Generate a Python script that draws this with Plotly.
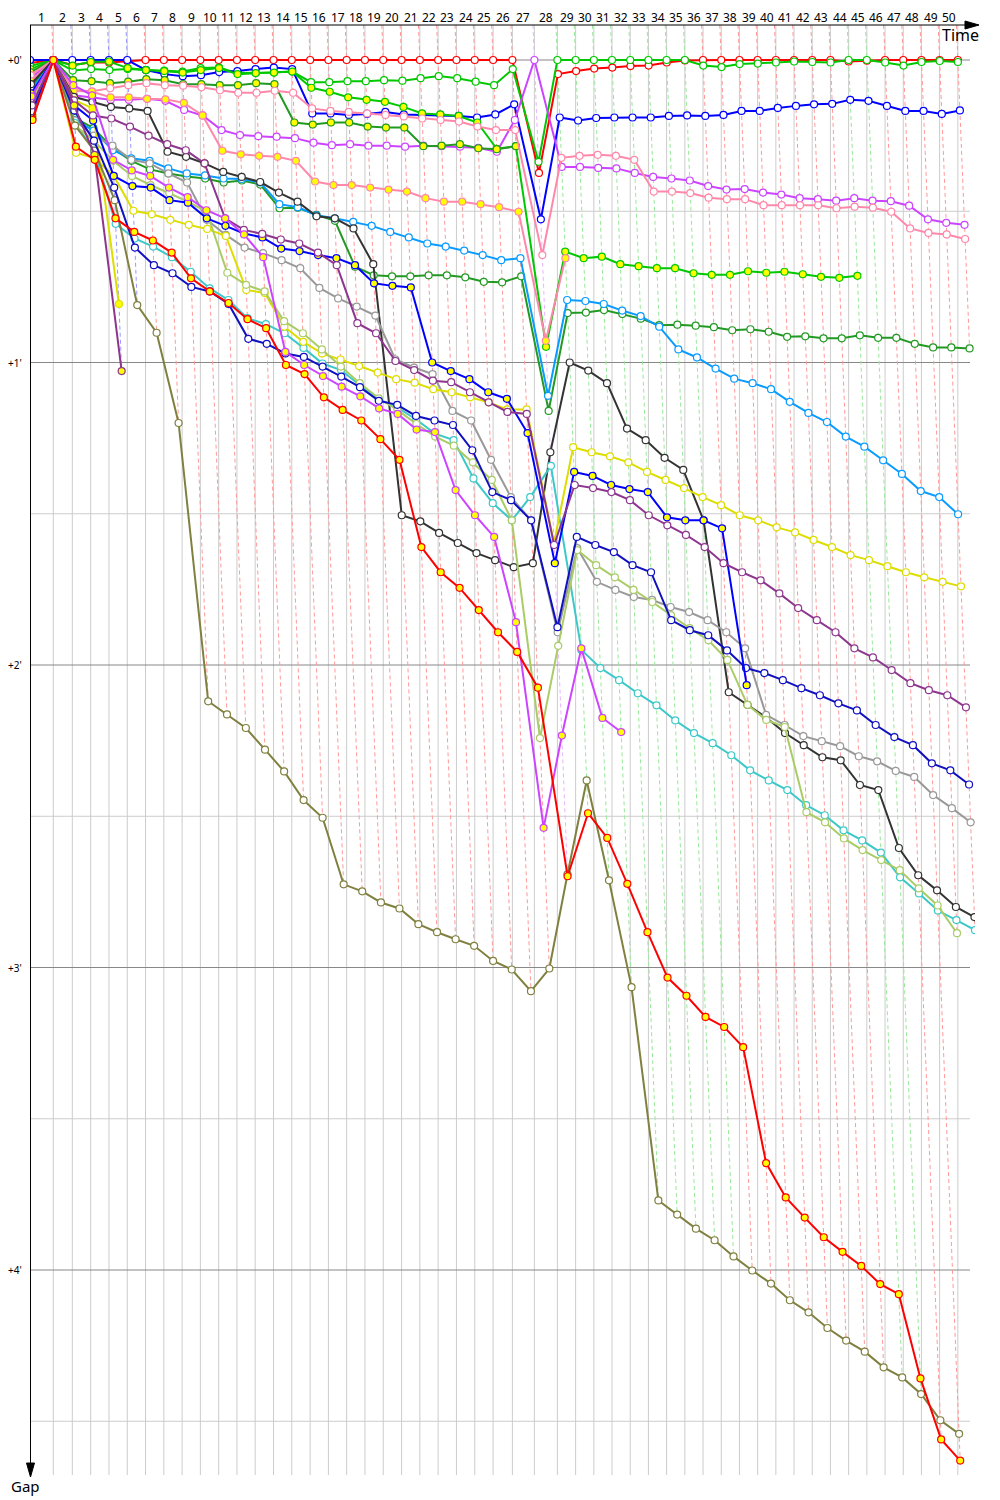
import plotly.graph_objects as go

N = None

# ---------------- data ----------------
lap_numbers = list(range(1, 51))
lap_labels = [str(n) for n in lap_numbers]

# leader lap times (seconds), laps 1..50
leader_lap_times = [113.7, 92.7,
                    89.6, 89.4, 89.1, 89.0, 89.3, 89.2, 89.0, 89.4, 89.1, 89.0, 89.3, 89.2,
                    89.5, 89.1, 89.0, 89.3, 89.2, 89.4, 89.2, 89.1, 89.4, 89.3, 89.5,
                    94.1, 107.3, 112.2,
                    89.0, 88.8, 88.6, 88.9, 88.7, 88.8, 89.0, 88.6, 88.9, 88.8, 88.7,
                    88.9, 88.8, 88.6, 88.9, 88.7, 88.8, 88.9, 88.7, 88.8, 88.6, 88.9]

gap_ticks = [0, 60, 120, 180, 240]
gap_tick_labels = ["+0'", "+1'", "+2'", "+3'", "+4'"]

# gaps to leader (seconds), index = lap 0..50
red_a = [0.6, 0, 1.0, 0.5, 0.5, 0.2,
         0, 0, 0, 0, 0, 0, 0, 0, 0, 0, 0, 0, 0, 0, 0, 0, 0, 0, 0, 0, 0,
         22.4,
         2.8, 2.2, 1.7, 1.5, 1.2, 1.1, 0.5, 0.1,
         0, 0, 0, 0, 0, 0, 0, 0,
         0.3, 0.15,
         0, 0, 0, 0, 0]
green_a = [1.2, 0, 2.1, 1.8, 2.0, 1.8, 2.0, 2.1, 2.3, 1.6, 1.5, 2.6, 2.6, 2.5, 2.3, 4.4, 4.4, 4.2,
           4.2, 4.0, 4.1, 3.6, 3.2, 3.6, 4.3, 5.0, 1.8, 20.2,
           0, 0, 0, 0, 0, 0, 0, 0,
           1.1, 1.4, 0.8, 0.7, 0.5, 0.3, 0.4, 0.5, 0, 0, 0.5, 1.1, 0.4, 0.2, 0.4]
green_b = [1.8, 0, 1.1, 0.4, 0.3, 1.6, 2.0, 2.2, 2.5, 2.0, 1.6, 2.8, 2.6, 2.5, 2.3, 5.5, 6.3, 7.4,
           7.9, 8.3, 9.3, 10.6, 10.8, 11.1, 12.4, 17.6, 17.1, 56.9,
           38.0, 39.3, 39.0, 40.5, 40.9, 41.3, 41.3, 42.3, 42.6, 42.6, 41.9, 42.2, 42.0, 42.5,
           43.0, 43.2, 42.8, N, N, N, N, N, N]
dkgreen_b = [2.4, 0, 4.0, 4.2, 4.6, 4.3, 3.8, 4.0, 4.8, 4.8, 5.0, 5.0, 4.6, 4.8, 12.4, 12.8, 12.4,
             12.4, 13.2, 13.4, 13.4, 17.1, 17.0, 16.7, 17.5, 17.7, 17.1] + [N] * 24
pink_a = [3.0, 0, 6.0, 6.2, 5.6, 5.0, 4.6, 5.0, 5.1, 5.4, 6.0, 6.5, 6.5, 6.1, 6.5, 9.6, 10.1, 10.3,
          10.6, 10.9, 11.2, 11.6, 11.9, 12.2, 13.2, 13.9, 13.9, 38.7,
          19.4, 19.0, 18.8, 19.0, 19.8, 26.1, 26.1, 26.4, 27.3, 27.6, 27.6, 28.8, 28.8, 28.8,
          28.8, 29.4, 29.1, 29.3, 30.1, 33.4, 34.3, 34.6, 35.5]
pink_b = [4.2, 0, 6.1, 6.3, 7.4, 7.4, 7.7, 7.8, 8.5, 11.0, 18.0, 18.7, 19.0, 19.2, 20.0, 24.1, 24.8,
          24.8, 25.3, 25.7, 26.1, 27.4, 28.1, 28.1, 28.6, 29.2, 30.1, 55.7, 39.3] + [N] * 22
magenta_a = [3.6, 0, 7.0, 7.5, 7.9, 7.9, 7.7, 8.1, 9.9, 11.0, 13.9, 14.9, 15.1, 15.2, 15.5, 16.4,
             16.9, 16.7, 17.0, 17.0, 17.2, 17.0, 17.1, 17.2, 17.4, 18.2, 11.9, 0,
             21.2, 21.2, 21.4, 21.5, 22.4, 23.2, 23.5, 23.9, 25.0, 25.7, 25.6, 26.3, 26.7, 27.4,
             27.6, 27.9, 27.4, 27.9, 28.0, 28.9, 31.6, 32.3, 32.7]
magenta_b = [7.2, 0, 5.0, 7.0, 19.8, 21.9, 23.0, 25.3, 27.2, 29.8, 31.4, 34.6, 39.1, 57.9, 60.5,
             62.7, 64.8, 66.7, 69.1, 70.2, 73.3, 73.8, 85.3, 90.3, 94.6, 111.5, 152.3, 134.0,
             116.7, 130.5, 133.3] + [N] * 20
dkgreen_a = [5.4, 0, 11.5, 13.5, 17.5, 20.0, 21.7, 22.5, 23.1, 23.5, 24.3, 23.9, 24.7, 29.4, 29.3,
             30.7, 31.9, 41.0, 42.7, 42.9, 42.9, 42.7, 42.7, 43.1, 44.0, 44.1, 42.9, 69.6,
             50.2, 50.1, 49.6, 50.4, 51.3, 52.6, 52.5, 52.7, 53.0, 53.6, 53.4, 53.9, 54.9, 54.8,
             55.2, 55.2, 54.6, 55.1, 55.1, 56.3, 57.0, 57.0, 57.2]
ltblue = [6.0, 0, 11.9, 14.0, 17.9, 19.5, 20.0, 21.5, 22.5, 22.9, 23.5, 23.6, 24.3, 28.6, 29.2,
          30.8, 31.4, 32.1, 32.9, 34.1, 35.2, 36.4, 37.0, 37.8, 38.7, 39.7, 39.3, 66.6,
          47.6, 47.8, 48.4, 49.7, 50.8, 52.9, 57.4, 59.0, 61.2, 63.2, 64.1, 65.3, 67.8, 70.0,
          71.8, 74.7, 76.7, 79.4, 82.1, 85.5, 86.7, 90.1, N]
blue_a = [0, 0, 0, 0, 0, 0, 2.0, 2.8, 3.2, 3.0, 2.4, 2.2, 1.8, 1.5, 1.8, 10.6, 10.6, 10.9, 10.7,
          10.3, 10.8, 10.9, 10.9, 11.1, 11.4, 10.8, 8.8, 31.6,
          11.4, 12.0, 11.5, 11.4, 11.4, 11.4, 11.1, 11.0, 11.1, 10.9, 10.1, 10.1, 9.5, 9.1,
          8.8, 8.7, 7.9, 8.1, 9.1, 10.1, 10.1, 10.7, 10.0]
black = [4.8, 0, 7.3, 8.3, 9.3, 9.6, 10.1, 18.2, 19.2, 20.5, 22.2, 23.2, 24.2, 26.3, 28.1, 31.0,
         31.4, 33.4, 40.5, 90.3, 91.5, 93.8, 95.8, 97.8, 99.2, 100.6, 99.8, 77.8,
         60.0, 61.6, 64.1, 73.1, 75.4, 78.9, 81.3, 91.3, 125.4, 127.9, 130.4, 133.5, 135.9,
         138.3, 138.9, 143.8, 144.8, 156.3, 161.7, 164.7, 168.0, 170.0, N]
gray = [8.4, 0, 12.0, 15.0, 17.0, 19.8, 20.5, 22.5, 24.3, 31.7, 34.7, 37.2, 38.3, 39.7, 41.3, 45.2,
        47.3, 48.9, 50.7, 59.4, 61.0, 62.3, 69.6, 71.5, 79.3, 86.7, 91.3, 113.5,
        96.8, 103.5, 105.1, 106.5, 107.1, 108.5, 109.5, 111.1, 113.5, 116.7, 129.9, 131.9,
        134.1, 135.1, 136.1, 138.1, 139.1, 141.0, 142.2, 145.8, 148.4, 151.2, N]
cyan = [9.6, 0, 12.5, 18.0, 32.5, 35.4, 37.0, 39.1, 42.0, 45.3, 47.6, 51.2, 52.4, 54.2, 57.1, 60.2,
        61.5, 64.5, 67.3, 68.9, 71.3, 74.1, 75.4, 83.0, 87.9, 91.3, 86.7, 80.5,
        117.0, 120.6, 123.0, 125.6, 128.0, 131.0, 133.5, 135.5, 137.9, 140.9, 142.9, 144.8,
        147.8, 149.8, 152.8, 154.8, 157.2, 162.1, 165.3, 168.7, 170.6, 172.6, N]
yellow_a = [10.8, 0, 18.4, 19.5, 23.0, 29.9, 30.6, 31.7, 32.7, 33.5, 34.9, 45.6, 46.2, 52.9, 55.9,
            58.2, 59.4, 60.7, 62.0, 63.3, 64.0, 65.3, 65.9, 66.9, 67.9, 69.3, 69.3, 95.8,
            76.8, 77.8, 78.6, 79.8, 81.7, 83.3, 84.9, 86.7, 88.3, 90.3, 91.3, 92.7, 93.7, 95.2,
            96.6, 98.2, 99.2, 100.4, 101.6, 102.6, 103.5, 104.4, N]
yellow_b = [11.3, 0, 7.9, 9.6, 48.4] + [N] * 46
ygreen = [7.8, 0, 13.0, 16.0, 20.0, 23.0, 24.8, 26.4, 28.1, 30.1, 42.2, 44.6, 45.9, 51.8, 54.2,
          57.4, 60.8, 64.1, 67.1, 69.4, 72.2, 74.7, 76.5, 79.8, 83.3, 91.3, 134.5, 116.2,
          97.2, 100.2, 102.6, 105.1, 107.5, 110.1, 112.7, 115.1, 119.0, 127.9, 130.9, 132.3,
          149.2, 151.2, 154.4, 156.7, 158.7, 160.7, 164.3, 167.7, 173.2, N, N]
olive = [11.0, 0, 13.0, 18.0, 27.8, 48.6, 54.1, 72.0, 127.2, 129.8, 132.5, 136.8, 141.1, 146.8,
         150.3, 163.5, 164.9, 167.1, 168.3, 171.4, 173.0, 174.4, 175.7, 178.7, 180.4, 184.7,
         180.2, 161.5,
         142.9, 162.7, 183.9, 226.2, 229.0, 231.8, 234.1, 237.3, 240.1, 242.7, 246.0, 248.4,
         251.5, 254.0, 256.2, 259.3, 261.3, 264.6, 269.8, 272.5, N, N, N]
red_b = [11.9, 0, 17.2, 19.8, 31.4, 34.1, 35.8, 38.2, 43.3, 45.9, 48.2, 51.4, 53.2, 60.5, 62.3,
         66.9, 69.4, 71.5, 75.2, 79.3, 96.6, 101.6, 104.7, 109.1, 113.5, 117.4, 124.5, 161.9,
         149.4, 154.3, 163.4, 173.0, 182.0, 185.6, 189.8, 191.8, 195.8, 218.8, 225.6, 229.6,
         233.5, 236.4, 239.2, 242.8, 244.8, 261.5, 273.6, 277.8, N, N, N]
dkblue = [10.2, 0, 10.0, 16.0, 25.3, 37.2, 40.7, 42.3, 45.0, 45.9, 48.4, 55.3, 56.3, 58.2, 58.9,
          60.8, 62.8, 64.9, 67.6, 68.4, 70.6, 71.5, 72.4, 77.4, 85.7, 87.3, 91.3, 112.5,
          94.6, 96.2, 97.6, 100.2, 101.6, 111.1, 113.1, 114.1, 117.1, 120.6, 121.6, 123.0,
          124.6, 126.0, 127.6, 129.0, 131.9, 134.3, 135.9, 139.5, 140.9, 143.7, N]
blue_b = [6.6, 0, 9.0, 12.0, 23.0, 25.0, 25.3, 27.8, 28.3, 31.4, 32.9, 34.4, 35.2, 37.4, 37.9,
          38.7, 39.3, 40.7, 44.3, 44.8, 45.1, 60.0, 61.7, 63.3, 65.9, 67.2, 74.0, 99.8,
          81.7, 82.5, 84.3, 85.1, 85.7, 90.7, 91.3, 91.3, 92.9, 124.0] + [N] * 13
dkpurple_a = [9.0, 0, 8.0, 11.0, 11.6, 13.2, 15.0, 16.7, 17.9, 20.5, 31.4, 33.7, 34.5, 35.6, 36.4,
              38.2, 40.7, 52.2, 54.2, 59.7, 61.5, 63.6, 63.9, 65.9, 67.9, 69.8, 70.2, 96.2,
              84.3, 84.9, 85.7, 87.3, 90.3, 92.3, 94.2, 96.6, 99.8, 101.6, 103.2, 105.8, 108.7,
              111.1, 113.5, 116.7, 118.5, 121.0, 123.6, 125.0, 126.0, 128.4, N]
dkpurple_b = [11.6, 0, 9.0, 18.8, 61.7] + [N] * 46

# ---------------- styles ----------------
WHITE, YELLOW = "#FFFFFF", "#FFFF00"
series = [
    (red_a, "#FF0000", WHITE),
    (green_a, "#00C800", WHITE),
    (blue_a, "#0000FF", WHITE),
    (magenta_a, "#CC44FF", WHITE),
    (green_b, "#00C800", YELLOW),
    (dkgreen_b, "#229922", YELLOW),
    (pink_a, "#FF88AA", WHITE),
    (pink_b, "#FF88AA", YELLOW),
    (dkgreen_a, "#229922", WHITE),
    (ltblue, "#0A9BFF", WHITE),
    (black, "#333333", WHITE),
    (gray, "#999999", WHITE),
    (cyan, "#3CC8C8", WHITE),
    (yellow_a, "#DDDD00", WHITE),
    (yellow_b, "#DDDD00", YELLOW),
    (ygreen, "#AACC66", WHITE),
    (olive, "#808040", WHITE),
    (dkblue, "#1010C0", WHITE),
    (blue_b, "#0000FF", YELLOW),
    (dkpurple_a, "#8E368E", WHITE),
    (dkpurple_b, "#8E368E", YELLOW),
    (magenta_b, "#CC44FF", YELLOW),
    (red_b, "#FF0000", YELLOW),
]

# page layout (page pixels); the html body adds an 8 px offset
OFF = 8
PL, PR, PT, PB = 30, 975, 25, 1475          # plot area in page pixels
W, H = 1000 - OFF, 1500 - OFF
ML, MT = PL - OFF, PT - OFF
MR, MB = W - (PR - OFF), H - (PB - OFF)
SX = 4.878            # seconds per horizontal pixel
SY = 302.5 / 60.0     # vertical pixels per second of gap
ZERO_PX = 60
x_max = (PR - PL) * SX
y_top = -(ZERO_PX - PT) / SY
y_bot = (PB - ZERO_PX) / SY

T = [0.0]
for lt in leader_lap_times:
    T.append(T[-1] + lt)


def light(hexcol, k=0.6):
    h = hexcol.lstrip("#")
    r, g, b = int(h[0:2], 16), int(h[2:4], 16), int(h[4:6], 16)
    r, g, b = [int(c + (255 - c) * k) for c in (r, g, b)]
    return f"rgb({r},{g},{b})"


def ypaper(py):
    return 1 - (py - PT) / (PB - PT)


def xpaper(px):
    return (px - PL) / (PR - PL)


fig = go.Figure()

# lap lines (dashed)
for n in range(1, 51):
    vals = [(s[0][n], s[1]) for s in series if s[0][n] is not None]
    lead = min(vals, key=lambda v: v[0])
    gmax = max(v[0] for v in vals)
    fig.add_trace(go.Scatter(
        x=[T[n] + y_top, T[n] + gmax], y=[y_top, gmax], mode="lines",
        line=dict(color=light(lead[1], 0.6), width=1, dash="4px,3px"),
        hoverinfo="skip", showlegend=False))

# driver series
for gaps, col, fill in series:
    xs, ys = [], []
    for lap, g in enumerate(gaps):
        if g is None:
            continue
        xs.append(T[lap] + g)
        ys.append(g)
    fig.add_trace(go.Scatter(
        x=xs, y=ys, mode="lines+markers",
        line=dict(color=col, width=2),
        marker=dict(symbol="circle", size=7, color=fill, line=dict(color=col, width=1.2)),
        hoverinfo="skip", showlegend=False))

shapes = []
# vertical lap grid
for n in range(1, 51):
    shapes.append(dict(type="line", xref="x", yref="paper", x0=T[n], x1=T[n], y0=0, y1=1,
                       line=dict(color="#CCCCCC", width=1), layer="below"))
# horizontal gap grid
x_end = (970 - PL) * SX
for k in range(0, 10):
    g = 30 * k
    major = (g % 60 == 0)
    shapes.append(dict(type="line", xref="x", yref="y", x0=0, x1=x_end, y0=g, y1=g,
                       line=dict(color="#888888" if major else "#CCCCCC", width=1), layer="below"))
# axes with arrows
shapes.append(dict(type="line", xref="paper", yref="paper", x0=0, x1=xpaper(968), y0=1, y1=1,
                   line=dict(color="black", width=1)))
shapes.append(dict(type="path", xref="paper", yref="paper",
                   path=f"M {xpaper(979)},{ypaper(25)} L {xpaper(965)},{ypaper(21)} "
                        f"L {xpaper(965)},{ypaper(29)} Z",
                   fillcolor="black", line=dict(color="black", width=1)))
shapes.append(dict(type="line", xref="paper", yref="paper", x0=xpaper(30.5), x1=xpaper(30.5),
                   y0=1, y1=ypaper(1466), line=dict(color="black", width=1)))
shapes.append(dict(type="path", xref="paper", yref="paper",
                   path=f"M {xpaper(30.5)},{ypaper(1477)} L {xpaper(26.5)},{ypaper(1463)} "
                        f"L {xpaper(34.5)},{ypaper(1463)} Z",
                   fillcolor="black", line=dict(color="black", width=1)))

annotations = []
for n, lab in zip(lap_numbers, lap_labels):
    annotations.append(dict(x=(T[n - 1] + T[n]) / 2, y=ypaper(17.5), xref="x", yref="paper",
                            text=lab, showarrow=False, xanchor="center", yanchor="middle",
                            borderpad=0,
                            font=dict(size=12, color="black", family="Noto Sans")))
for g, lab in zip(gap_ticks, gap_tick_labels):
    annotations.append(dict(x=0, y=g, xref="paper", yref="y", text=lab, showarrow=False,
                            xanchor="right", yanchor="middle", xshift=-6,
                            font=dict(size=10, color="black", family="Noto Sans")))
annotations.append(dict(x=xpaper(960), y=ypaper(35), xref="paper", yref="paper", text="Time",
                        showarrow=False, xanchor="center", yanchor="middle",
                        font=dict(size=16, color="black", family="Noto Sans")))
annotations.append(dict(x=xpaper(25), y=ypaper(1486), xref="paper", yref="paper", text="Gap",
                        showarrow=False, xanchor="center", yanchor="middle",
                        font=dict(size=15, color="black", family="Noto Sans")))

fig.update_layout(
    width=W, height=H,
    margin=dict(l=ML, r=MR, t=MT, b=MB),
    paper_bgcolor="white", plot_bgcolor="white",
    showlegend=False,
    xaxis=dict(range=[0, x_max], visible=False),
    yaxis=dict(range=[y_bot, y_top], visible=False),
    shapes=shapes, annotations=annotations,
    font=dict(family="Noto Sans"),
)

fig.write_html("out.html")
